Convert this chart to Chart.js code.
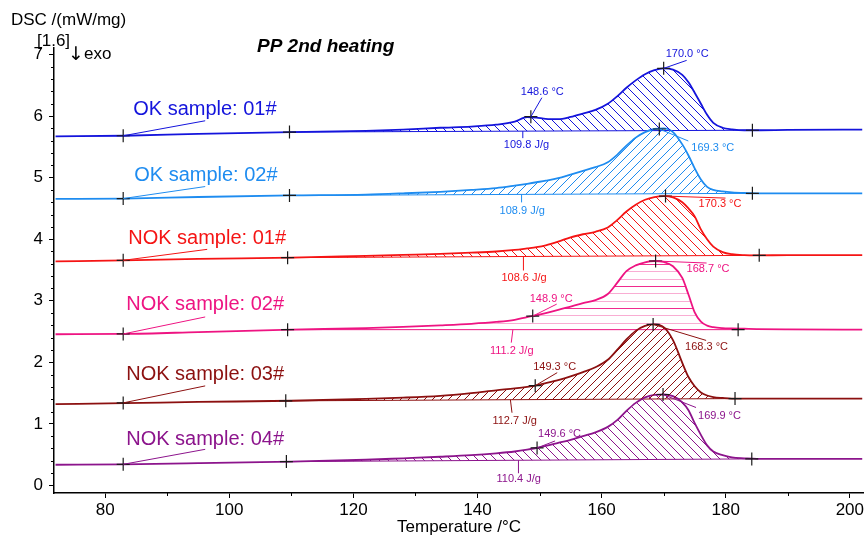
<!DOCTYPE html>
<html>
<head>
<meta charset="utf-8">
<script src="https://cdn.jsdelivr.net/npm/chart.js@4.4.1/dist/chart.umd.min.js"></script>
<style>
  html, body { margin: 0; padding: 0; background: #fff; }
  canvas { display: block; }
</style>
</head>
<body>
<canvas id="dsc" width="866" height="535"></canvas>
<script>
// === Data: PP 2nd heating, DSC signal in mW/mg ===
const temps = [72, 83, 95, 110, 122, 128, 134, 139, 143, 146, 148, 149.5, 151, 153, 155, 157, 159, 161, 162.5, 164,
               165.5, 167, 168.5, 170, 171.5, 173, 174, 175, 176, 177, 178, 179.5, 181, 183, 185, 190, 202];

const ok01 = [5.67, 5.68, 5.71, 5.74, 5.76, 5.78, 5.81, 5.83, 5.86, 5.91, 5.985, 5.975, 5.955, 5.95, 5.985, 6.04, 6.10, 6.20, 6.32, 6.46,
              6.58, 6.68, 6.745, 6.775, 6.755, 6.67, 6.55, 6.38, 6.20, 6.02, 5.89, 5.81, 5.785, 5.77, 5.77, 5.775, 5.78];
const ok02 = [4.655, 4.66, 4.685, 4.71, 4.725, 4.745, 4.77, 4.80, 4.83, 4.87, 4.90, 4.925, 4.95, 4.99, 5.05, 5.11, 5.17, 5.25, 5.37, 5.52,
              5.65, 5.74, 5.79, 5.80, 5.74, 5.54, 5.36, 5.15, 4.97, 4.85, 4.80, 4.775, 4.76, 4.75, 4.745, 4.745, 4.745];
const nok01 = [3.64, 3.655, 3.68, 3.70, 3.73, 3.745, 3.76, 3.78, 3.80, 3.825, 3.85, 3.87, 3.90, 3.96, 4.03, 4.08, 4.12, 4.19, 4.31, 4.45,
               4.56, 4.64, 4.685, 4.70, 4.68, 4.60, 4.50, 4.37, 4.16, 4.00, 3.88, 3.79, 3.755, 3.74, 3.737, 3.74, 3.74];
const nok02 = [2.455, 2.46, 2.49, 2.53, 2.555, 2.575, 2.60, 2.625, 2.655, 2.69, 2.735, 2.765, 2.80, 2.85, 2.905, 2.96, 3.01, 3.11, 3.29, 3.48,
               3.575, 3.625, 3.645, 3.63, 3.56, 3.37, 3.10, 2.81, 2.66, 2.595, 2.57, 2.555, 2.55, 2.545, 2.54, 2.535, 2.53];
const nok03 = [1.32, 1.335, 1.355, 1.375, 1.405, 1.425, 1.455, 1.50, 1.545, 1.575, 1.60, 1.625, 1.66, 1.71, 1.77, 1.84, 1.92, 2.04, 2.20, 2.37,
               2.51, 2.59, 2.615, 2.57, 2.36, 1.99, 1.76, 1.61, 1.51, 1.46, 1.435, 1.42, 1.41, 1.41, 1.41, 1.41, 1.41];
const nok04 = [0.335, 0.342, 0.36, 0.387, 0.416, 0.44, 0.465, 0.49, 0.52, 0.55, 0.58, 0.607, 0.64, 0.69, 0.74, 0.80, 0.86, 0.95, 1.06, 1.21,
               1.34, 1.43, 1.47, 1.476, 1.45, 1.35, 1.22, 1.01, 0.82, 0.65, 0.55, 0.49, 0.455, 0.44, 0.43, 0.43, 0.43];

const names = ['OK sample: 01#', 'OK sample: 02#', 'NOK sample: 01#', 'NOK sample: 02#', 'NOK sample: 03#', 'NOK sample: 04#'];
const curves = [ok01, ok02, nok01, nok02, nok03, nok04];

// integration limits of the melting peak
const startT = [109.7, 109.7, 109.4, 109.4, 109.1, 109.2];
const startV = [5.74, 4.71, 3.70, 2.53, 1.373, 0.386];
const endT = [184.3, 184.3, 185.4, 182.0, 181.5, 184.2];
const endV = [5.77, 4.745, 3.737, 2.53, 1.41, 0.43];

// peak, onset and enthalpy evaluations
const peakT = [170.0, 169.3, 170.3, 168.7, 168.3, 169.9];
const peakV = [6.775, 5.79, 4.70, 3.645, 2.615, 1.476];
const onsetT = [148.6, null, null, 148.9, 149.3, 149.6];
const onsetV = [5.99, null, null, 2.75, 1.62, 0.608];
const enthalpy = [109.8, 108.9, 108.6, 111.2, 112.7, 110.4];
const enthalpyT = [147.3, 147.1, 147.4, 145.7, 145.3, 146.6];

// name marker on each curve
const nameT = 82.9;
const nameV = [5.68, 4.66, 3.656, 2.46, 1.34, 0.342];

// === Styles ===
const colors = ['#1414dc', '#1e8cf0', '#f51414', '#ee1482', '#8c1010', '#8c148c'];
const hatchKind = ['\\', '/', '\\', '-', '/', '\\'];
const hatchGap = [9, 9, 9, 0, 8, 9];

// label offsets in px: [leader end], [text left / middle]
const nameLead = [[82, -15], [82, -12], [84, -11], [82, -17], [82, -17], [82, -15]];
const nameText = [[10, -26], [11, -23], [5, -22], [3, -29], [3, -28], [3, -25]];
const peakLead = [[23, -8], [29, 12], [60, 2], [51, 2], [53, 16], [33, 13]];
const peakText = [[2, -14], [32, 19], [33, 8], [31, 8], [32, 23], [35, 21]];
const onsetLead = [[11, -19], null, null, [24, -12], [22, -13], [18, -7]];
const onsetText = [[-10, -25], null, null, [-3, -17], [-2, -19], [1, -14]];
const areaLead = [[0, 7], [0, 8], [0, 14], [-1.6, 13], [1.6, 13], [0, 13]];
const areaText = [[-19, 14], [-22, 17], [-22, 21], [-23, 21], [-18, 21], [-22, 19]];

const FONT = 'Liberation Sans, Arial, sans-serif';

const canvas = document.getElementById('dsc');
const mainCtx = canvas.getContext('2d');

function makeHatch(color, kind, gap) {
    const c = document.createElement('canvas');
    const g = c.getContext('2d');
    if (kind === '-') {
        c.width = 4; c.height = 22;
        g.fillStyle = color;
        g.globalAlpha = 0.9;
        g.fillRect(0, 0, 4, 1);
        g.globalAlpha = 0.35;
        g.fillRect(0, 7, 4, 1);
        g.fillRect(0, 15, 4, 1);
    } else {
        c.width = gap; c.height = gap;
        g.strokeStyle = color;
        g.lineWidth = 1;
        g.beginPath();
        for (let k = -1; k <= 1; k++) {
            const o = k * gap;
            if (kind === '\\') { g.moveTo(o, 0); g.lineTo(o + gap, gap); }
            else { g.moveTo(o + gap, 0); g.lineTo(o, gap); }
        }
        g.stroke();
    }
    return mainCtx.createPattern(c, 'repeat');
}

// === Datasets ===
const datasets = [];
curves.forEach((vals, i) => {
    datasets.push({
        label: names[i],
        data: temps.map((t, k) => ({ x: t, y: vals[k] })),
        borderColor: colors[i],
        borderWidth: 1.8,
        backgroundColor: makeHatch(colors[i], hatchKind[i], hatchGap[i]),
        fill: '+1',
        pointRadius: 0,
        cubicInterpolationMode: 'monotone',
        order: 1
    });
    datasets.push({
        label: names[i] + ' baseline',
        data: [{ x: startT[i], y: startV[i] }, { x: endT[i], y: endV[i] }],
        borderColor: colors[i],
        borderWidth: 1,
        pointRadius: 0,
        fill: false,
        order: 2
    });
    const marks = [
        { x: nameT, y: nameV[i] },
        { x: startT[i], y: startV[i] },
        { x: endT[i], y: endV[i] },
        { x: peakT[i], y: peakV[i] }
    ];
    if (onsetT[i] !== null) marks.push({ x: onsetT[i], y: onsetV[i] });
    datasets.push({
        label: names[i] + ' marks',
        data: marks,
        showLine: false,
        pointStyle: 'cross',
        pointRadius: 6.5,
        pointBorderColor: '#1a1a1a',
        pointBorderWidth: 1.2,
        order: 0
    });
});

function note(ctx, ax, ay, lead, pos, text, color, font) {
    ctx.strokeStyle = color;
    ctx.lineWidth = 1;
    ctx.beginPath();
    ctx.moveTo(ax, ay);
    ctx.lineTo(ax + lead[0], ay + lead[1]);
    ctx.stroke();
    ctx.fillStyle = color;
    ctx.font = font;
    ctx.textAlign = 'left';
    ctx.textBaseline = 'middle';
    ctx.fillText(text, ax + pos[0], ay + pos[1]);
}

const annotations = {
    id: 'annotations',
    afterDatasetsDraw(chart) {
        const { ctx, chartArea } = chart;
        const x = chart.scales.x;
        const y = chart.scales.y;
        ctx.save();

        // minor ticks
        ctx.strokeStyle = '#000';
        ctx.lineWidth = 1;
        ctx.beginPath();
        for (let t = 90; t <= 190; t += 20) {
            const px = Math.round(x.getPixelForValue(t)) + 0.5;
            ctx.moveTo(px, chartArea.bottom);
            ctx.lineTo(px, chartArea.bottom + 3);
        }
        for (let k = 1; k < 36; k++) {
            if (k % 5 === 0) continue;
            const py = Math.round(y.getPixelForValue(k / 5)) + 0.5;
            ctx.moveTo(chartArea.left, py);
            ctx.lineTo(chartArea.left - 3, py);
        }
        ctx.stroke();

        const small = '11px ' + FONT;
        curves.forEach((vals, i) => {
            const c = colors[i];
            note(ctx, x.getPixelForValue(nameT), y.getPixelForValue(nameV[i]),
                 nameLead[i], nameText[i], names[i], c, '20px ' + FONT);
            note(ctx, x.getPixelForValue(peakT[i]), y.getPixelForValue(peakV[i]),
                 peakLead[i], peakText[i], peakT[i].toFixed(1) + ' °C', c, small);
            if (onsetT[i] !== null) {
                note(ctx, x.getPixelForValue(onsetT[i]), y.getPixelForValue(onsetV[i]),
                     onsetLead[i], onsetText[i], onsetT[i].toFixed(1) + ' °C', c, small);
            }
            const f = (enthalpyT[i] - startT[i]) / (endT[i] - startT[i]);
            const bv = startV[i] + f * (endV[i] - startV[i]);
            note(ctx, x.getPixelForValue(enthalpyT[i]), y.getPixelForValue(bv),
                 areaLead[i], areaText[i], enthalpy[i].toFixed(1) + ' J/g', c, small);
        });

        // axis captions and title
        ctx.fillStyle = '#000';
        ctx.textBaseline = 'middle';
        ctx.textAlign = 'left';
        ctx.font = '17px ' + FONT;
        ctx.fillText('DSC /(mW/mg)', 11, 20);
        ctx.fillText('[1.6]', 37, 41);
        ctx.fillText('exo', 84, 54);
        ctx.font = '19px DejaVu Sans, sans-serif';
        ctx.fillText('\u2193', 68, 55);
        ctx.font = '17px ' + FONT;
        ctx.textAlign = 'center';
        ctx.fillText('Temperature /°C', 459, 527);
        ctx.textAlign = 'left';
        ctx.font = 'italic bold 19px ' + FONT;
        ctx.fillText('PP 2nd heating', 257, 47);
        ctx.restore();
    }
};

Chart.defaults.font.family = FONT;

new Chart(mainCtx, {
    type: 'line',
    data: { datasets },
    options: {
        responsive: false,
        animation: false,
        devicePixelRatio: 1,
        layout: { padding: { top: 48, left: 0, right: 0, bottom: 0 }, autoPadding: false },
        scales: {
            x: {
                type: 'linear',
                min: 71.75,
                max: 202.15,
                afterFit(scale) { scale.height = 42; },
                ticks: { stepSize: 20, includeBounds: false, color: '#000', font: { size: 17 }, padding: 2, maxRotation: 0 },
                grid: { drawOnChartArea: false, drawTicks: true, tickLength: 5, color: '#000' },
                border: { display: true, color: '#000', width: 1.5 }
            },
            y: {
                type: 'linear',
                min: -0.124,
                max: 7.106,
                afterFit(scale) { scale.width = 54; },
                ticks: { stepSize: 1, includeBounds: false, color: '#000', font: { size: 17 }, padding: 6 },
                grid: { drawOnChartArea: false, drawTicks: true, tickLength: 5, color: '#000' },
                border: { display: true, color: '#000', width: 1.5 }
            }
        },
        plugins: {
            legend: { display: false },
            tooltip: { enabled: false }
        }
    },
    plugins: [annotations]
});
</script>
</body>
</html>
